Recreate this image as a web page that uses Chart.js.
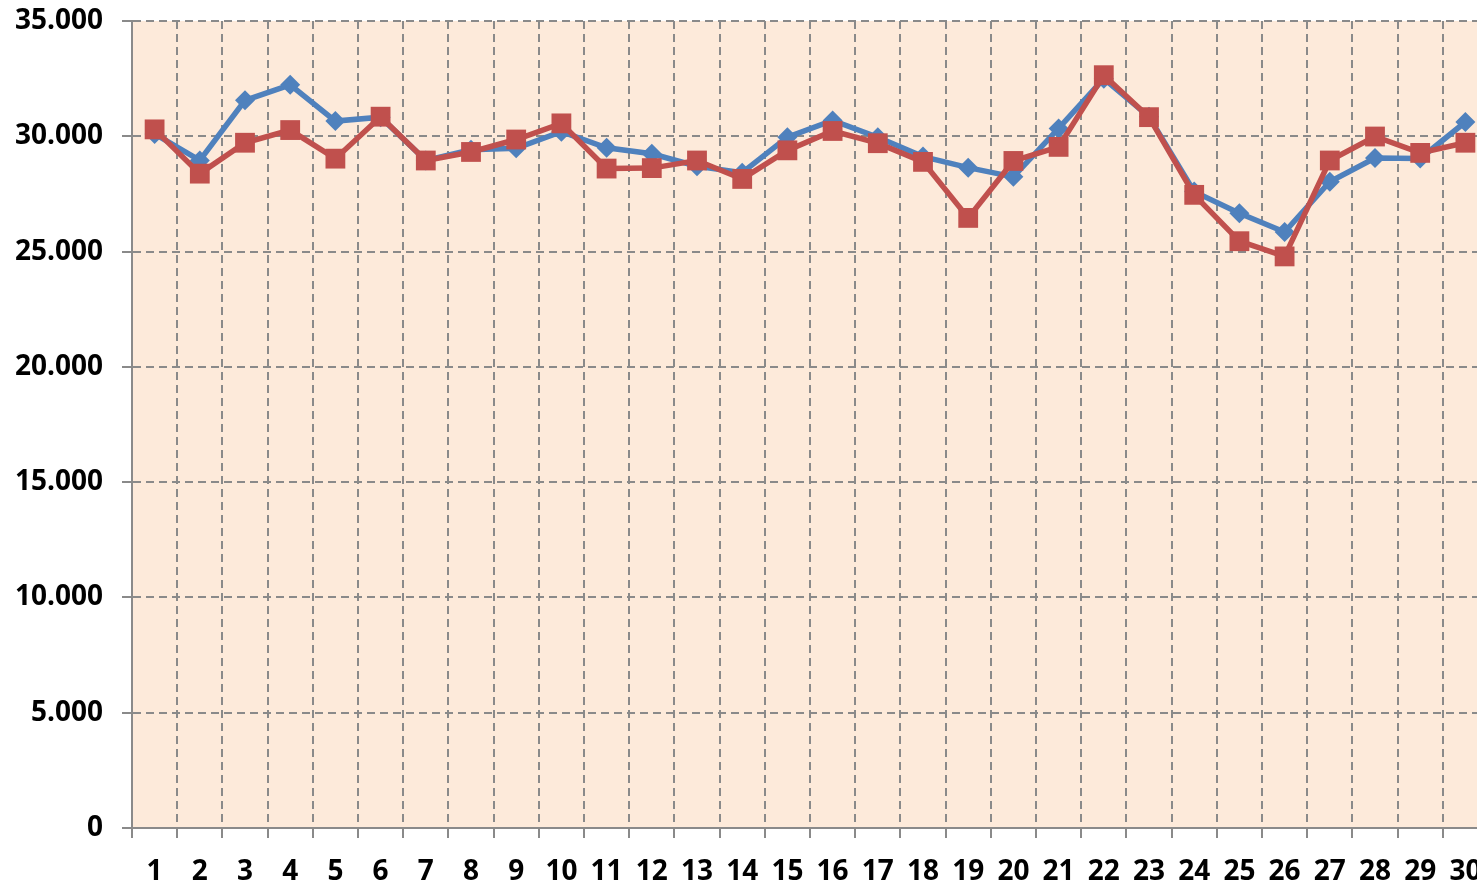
<!DOCTYPE html>
<html>
<head>
<meta charset="utf-8">
<script src="https://cdn.jsdelivr.net/npm/chart.js@4/dist/chart.umd.min.js"></script>
<style>
  html, body { margin: 0; padding: 0; background: #fff; overflow: hidden; }
  #wrap { width: 1477px; height: 883px; overflow: hidden; position: relative; }
  canvas { display: block; }
</style>
</head>
<body>
<div id="wrap"><canvas id="chart" width="1502" height="883"></canvas></div>
<script>
const days = ['1','2','3','4','5','6','7','8','9','10','11','12','13','14','15','16','17','18','19','20','21','22','23','24','25','26','27','28','29','30'];

const blueSeries = [30100, 28950, 31560, 32230, 30660, 30830, 28950, 29420, 29480, 30200,
                    29500, 29240, 28700, 28420, 29960, 30690, 29960, 29120, 28640, 28240,
                    30340, 32500, 30850, 27600, 26660, 25850, 28030, 29060, 29040, 30620];

const redSeries = [30300, 28380, 29720, 30270, 29030, 30850, 28950, 29320, 29860, 30560,
                   28600, 28620, 28950, 28150, 29390, 30230, 29700, 28890, 26460, 28930,
                   29540, 32650, 30830, 27460, 25450, 24790, 28950, 29990, 29280, 29720];

const yTicks = [0, 5000, 10000, 15000, 20000, 25000, 30000, 35000];

const gridGray = '#8a8a8a';
const labelFont = { family: '"Open Sans", sans-serif', size: 28, weight: 'bold' };

// thousands with a dot, like the original
function dotThousands(v) {
  return String(v).replace(/\B(?=(\d{3})+(?!\d))/g, '.');
}

const plotBackground = {
  id: 'plotBackground',
  beforeDraw(chart) {
    const { ctx, chartArea: a } = chart;
    ctx.save();
    ctx.fillStyle = '#fdeada';
    ctx.fillRect(a.left, a.top, a.right - a.left, a.bottom - a.top);
    ctx.restore();
  },
};

new Chart(document.getElementById('chart'), {
  type: 'line',
  data: {
    labels: days,
    datasets: [
      {
        label: 'blue',
        data: blueSeries,
        borderColor: '#4f81bd',
        backgroundColor: '#4f81bd',
        borderWidth: 5.5,
        pointStyle: 'rectRot',
        pointRadius: 10,
        pointBorderWidth: 0,
        tension: 0,
        order: 1,
      },
      {
        label: 'red',
        data: redSeries,
        borderColor: '#c0504d',
        backgroundColor: '#c0504d',
        borderWidth: 5.5,
        pointStyle: 'rect',
        pointRadius: 14,
        pointBorderWidth: 0,
        tension: 0,
        order: 0,
      },
    ],
  },
  options: {
    responsive: false,
    animation: false,
    layout: { padding: { top: 21, right: 0, left: 0, bottom: 0 } },
    plugins: { legend: { display: false }, tooltip: { enabled: false } },
    scales: {
      x: {
        offset: true,
        grid: {
          offset: true,
          color: gridGray,
          lineWidth: 2,
          tickLength: 10,
          tickColor: gridGray,
          tickWidth: 2,
        },
        border: { display: true, color: gridGray, width: 2, dash: [8, 5] },
        ticks: { color: '#000', font: labelFont, padding: 17, maxRotation: 0, autoSkip: false },
        afterFit(scale) { scale.height = 55; },
      },
      y: {
        min: 0,
        max: 35000,
        afterBuildTicks(scale) { scale.ticks = yTicks.map(v => ({ value: v })); },
        grid: {
          color: gridGray,
          lineWidth: 2,
          tickLength: 10,
          tickColor: gridGray,
          tickWidth: 2,
        },
        border: { display: true, color: gridGray, width: 2, dash: [8, 5] },
        ticks: { color: '#000', font: labelFont, padding: 19, callback: v => dotThousands(v) },
        afterFit(scale) {
          scale.width = 132;
          // the top label may poke above the plot, as in the original
          scale.paddingTop = 0;
          scale.paddingBottom = 0;
        },
      },
    },
  },
  plugins: [plotBackground],
});
</script>
</body>
</html>
